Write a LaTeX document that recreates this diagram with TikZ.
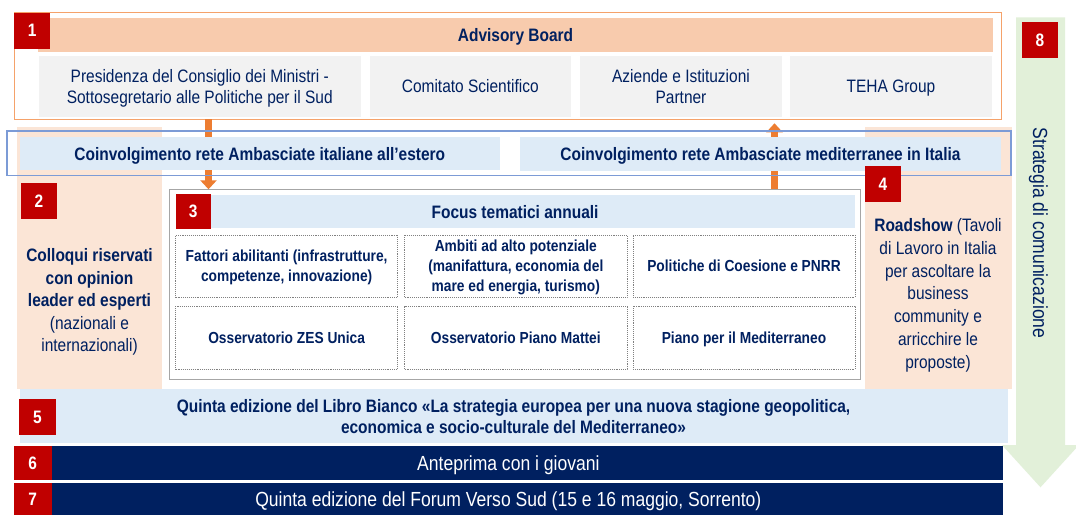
\documentclass[tikz,border=0pt]{standalone}
\usepackage{fontspec}
\setmainfont{Liberation Sans}[FakeStretch=0.86]
\usetikzlibrary{arrows.meta}
\definecolor{navy}{HTML}{002060}
\definecolor{redsq}{HTML}{C00000}
\definecolor{peachd}{HTML}{F8CBAD}
\definecolor{peachl}{HTML}{FBE5D6}
\definecolor{greybox}{HTML}{F2F2F2}
\definecolor{lblue}{HTML}{DEEBF7}
\definecolor{lgreen}{HTML}{E2F0D9}
\definecolor{oframe}{HTML}{F5A26A}
\definecolor{oarrow}{HTML}{ED7D31}
\definecolor{bframe}{HTML}{7C9BD6}
\definecolor{gframe}{HTML}{A6A6A6}
\definecolor{dotc}{HTML}{808080}
\begin{document}
\begin{tikzpicture}[x=1pt,y=-1pt,
  box/.style={rectangle, inner sep=0pt, outer sep=0pt, align=center, text=navy, text depth=0pt},
  num/.style={box, fill=redsq, text=white, font=\fontsize{18}{20}\selectfont\bfseries},
  reg/.style={font=\fontsize{18}{21.7}\selectfont},
  bld/.style={font=\fontsize{18}{21}\selectfont\bfseries},
  dbox/.style={box, draw=dotc, densely dotted, line width=0.9pt, fill=white,
    font=\fontsize{16}{20}\selectfont\bfseries},
  oarr/.style={draw=oarrow, line width=7pt, -{Triangle[length=9pt,width=16pt]}},
  navyrow/.style={box, fill=navy, text=white, font=\fontsize{20.4}{24}\selectfont}
]
\fill[white] (0,0) rectangle (1076,514);
\useasboundingbox (0,0) rectangle (1076,514);

% strategy arrow (8)
\fill[lgreen] (1016,17.3) -- (1065,17.3) -- (1065,445) -- (1079,445) -- (1040.5,487.3)
  -- (1002,445) -- (1016,445) -- cycle;
\node[box, rotate=-90, font=\fontsize{20.4}{24}\selectfont] (strat) at (1040.5,233) {Strategia di comunicazione};

% peach side columns
\node[box, fill=peachl, minimum width=145.5pt, minimum height=262.6pt] (col2) at (89.25,258) {};
\node[box, fill=peachl, minimum width=147pt, minimum height=262.6pt] (col4) at (938.5,258) {};

% Advisory board frame
\node[box, draw=oframe, line width=1pt, minimum width=987pt, minimum height=106.6pt] (advframe) at (508,66) {};

% focus frame
\node[box, draw=gframe, fill=white, line width=1pt, minimum width=691pt, minimum height=190pt] (focus) at (514.5,284.3) {};

% orange arrows
\coordinate (dx) at (208.5,0);
\coordinate (ux) at (774.5,0);
\draw[oarr] (advframe.south -| dx) -- (focus.north -| dx);
\draw[oarr, shorten >=4pt] (focus.north -| ux) -- (advframe.south -| ux);

% advisory bar and members
\node[box, fill=peachd, bld, minimum width=955pt, minimum height=33.7pt] (adv) at (515.5,34.85) {Advisory Board};
\node[box, fill=greybox, reg, minimum width=321.5pt, minimum height=60.7pt] (g1) at (199.75,86.35) {Presidenza del Consiglio dei Ministri -\\Sottosegretario alle Politiche per il Sud};
\node[box, fill=greybox, reg, minimum width=201.5pt, minimum height=60.7pt] (g2) at (470.25,86.35) {Comitato Scientifico};
\node[box, fill=greybox, reg, minimum width=202pt, minimum height=60.7pt] (g3) at (681,86.35) {Aziende e Istituzioni\\Partner};
\node[box, fill=greybox, reg, minimum width=202pt, minimum height=60.7pt] (g4) at (891,86.35) {TEHA Group};

% embassies
\node[box, draw=bframe, line width=1.2pt, minimum width=1004pt, minimum height=44.7pt] (emb) at (509,153.35) {};
\node[box, fill=lblue, bld, minimum width=480.4pt, minimum height=33.3pt] (emb1) at (259.8,153.65) {Coinvolgimento rete Ambasciate italiane all’estero};
\node[box, fill=lblue, bld, minimum width=481pt, minimum height=33.7pt] (emb2) at (760.5,153.85) {Coinvolgimento rete Ambasciate mediterranee in Italia};

% focus content
\node[box, fill=lblue, bld, minimum width=678.9pt, minimum height=33.3pt] (ftitle) at (515.05,211.65) {Focus tematici annuali};
\node[dbox, minimum width=222.1pt, minimum height=62.3pt] (f11) at (286.65,266.15) {Fattori abilitanti (infrastrutture,\\competenze, innovazione)};
\node[dbox, minimum width=222.4pt, minimum height=62.3pt] (f12) at (515.8,266.15) {Ambiti ad alto potenziale\\(manifattura, economia del\\mare ed energia, turismo)};
\node[dbox, minimum width=222pt, minimum height=62.3pt] (f13) at (744,266.15) {Politiche di Coesione e PNRR};
\node[dbox, minimum width=222.1pt, minimum height=63pt] (f21) at (286.65,337.5) {Osservatorio ZES Unica};
\node[dbox, minimum width=222.4pt, minimum height=63pt] (f22) at (515.8,337.5) {Osservatorio Piano Mattei};
\node[dbox, minimum width=222pt, minimum height=63pt] (f23) at (744,337.5) {Piano per il Mediterraneo};

% side texts
\node[box, font=\fontsize{18}{22.5}\selectfont] (col2txt) at (89.5,300) {\textbf{Colloqui riservati}\\\textbf{con opinion}\\\textbf{leader ed esperti}\\(nazionali e\\internazionali)};
\node[box, font=\fontsize{18}{22.8}\selectfont] (col4txt) at (938,293.4) {\textbf{Roadshow} (Tavoli\\di Lavoro in Italia\\per ascoltare la\\business\\community e\\arricchire le\\proposte)};

% bottom rows
\node[box, fill=lblue, font=\fontsize{18}{20.8}\selectfont\bfseries, minimum width=988pt, minimum height=54pt] (libro) at (513.5,416.3) {Quinta edizione del Libro Bianco «La strategia europea per una nuova stagione geopolitica,\\economica e socio-culturale del Mediterraneo»};
\node[navyrow, minimum width=989.3pt, minimum height=34.3pt] (ante) at (508.35,462.85) {Anteprima con i giovani};
\node[navyrow, minimum width=989.3pt, minimum height=33pt] (forum) at (508.35,499.5) {Quinta edizione del Forum Verso Sud (15 e 16 maggio, Sorrento)};

% number squares
\node[num, minimum width=36pt, minimum height=36pt] (n1) at (32.2,30.8) {1};
\node[num, minimum width=36pt, minimum height=36pt] (n2) at (39,201.2) {2};
\node[num, minimum width=35pt, minimum height=35pt] (n3) at (193.2,211.7) {3};
\node[num, minimum width=36pt, minimum height=36pt] (n4) at (883,183.9) {4};
\node[num, minimum width=37pt, minimum height=36pt] (n5) at (37.5,417) {5};
\node[num, minimum width=37.8pt, minimum height=34.3pt] (n6) at (32.6,462.85) {6};
\node[num, minimum width=37.8pt, minimum height=33pt] (n7) at (32.6,499.5) {7};
\node[num, minimum width=36pt, minimum height=36pt] (n8) at (1040,39.9) {8};
\end{tikzpicture}
\end{document}
